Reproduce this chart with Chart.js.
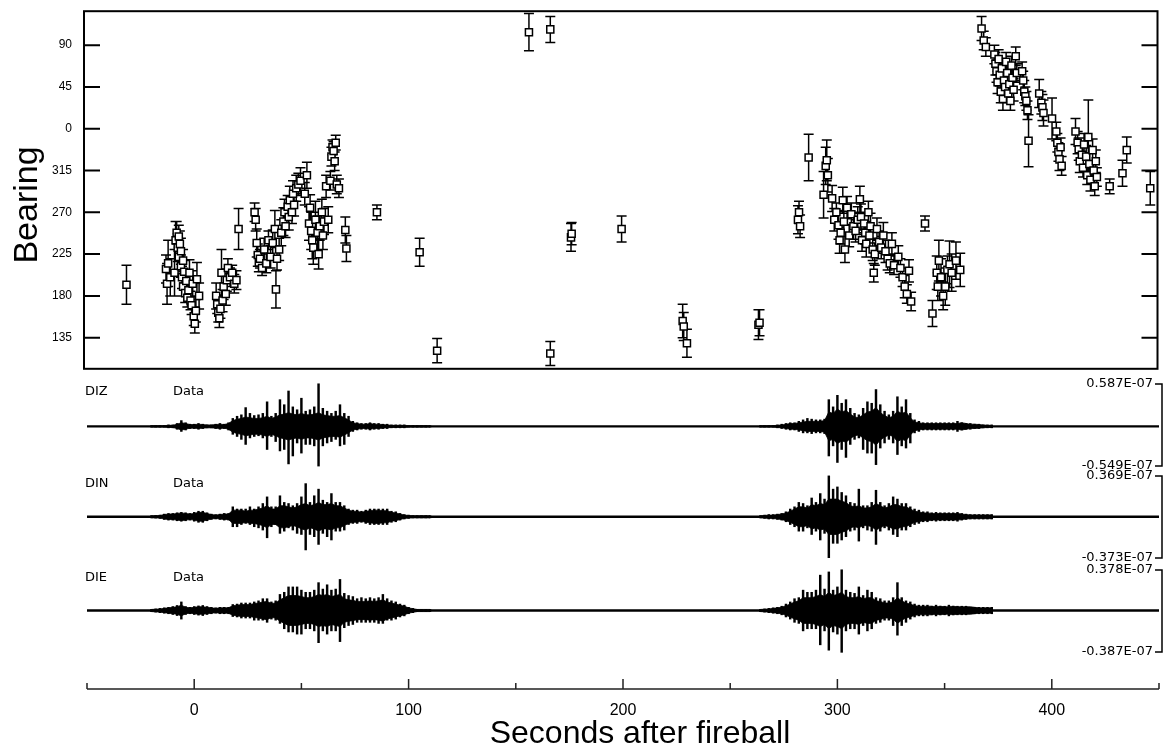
<!DOCTYPE html>
<html>
<head>
<meta charset="utf-8">
<script src="https://cdn.jsdelivr.net/npm/chart.js@4.4.1/dist/chart.umd.min.js"></script>
<style>
  body { margin: 0; background: #fff; }
  #wrap { position: relative; width: 1164px; height: 756px; overflow: hidden; }
  canvas { position: absolute; left: 0; }
</style>
</head>
<body>
<div id="wrap">
  <canvas id="bearing" width="1164" height="380" style="top:0"></canvas>
  <canvas id="diz" width="1164" height="100" style="top:376px"></canvas>
  <canvas id="din" width="1164" height="100" style="top:468px"></canvas>
  <canvas id="die" width="1164" height="100" style="top:562px"></canvas>
  <canvas id="axis" width="1164" height="96" style="top:660px"></canvas>
</div>
<script>
// bearing estimates: seconds after fireball, unwrapped bearing (deg), half error bar (deg)
const bearingTime = [
  -31.5, -13, -12.5, -12, -11, -9, -8.5, -8, -7.5, -7, -7, -6.5, -6, -6, -5.5, -5, -5, -4.5, -4, -3.5, -3, -2.5, -2, -1.5, -1, -0.5, 0, 0.5, 1, 1.5, 2.5,
  10.5, 11, 11.5, 12, 12.5, 13, 13.5, 14, 15, 15.5, 16, 17, 18, 19, 20, 21,
  28.5, 29, 29.5, 30, 30.5, 31, 32, 33, 34, 35, 36, 37, 38, 38.5, 39, 40, 41, 42, 42.5, 43, 44, 44.5, 45, 46, 46.5, 47, 48, 49, 50,
  52, 53, 54, 54.5, 55, 55.5, 56, 57, 58, 58.5, 59, 60, 60.5, 61, 62, 63, 64, 64.5, 65, 65.5, 66, 66.5, 67, 68, 71, 71.5,
  85.8, 105.8, 114, 157, 167, 167, 176.7, 177, 200.4, 229, 229.5, 231, 264.5, 265,
  283, 283.5, 284, 288, 295, 296, 296.5, 297, 299, 300, 301, 302, 302.5, 303, 304, 304.5, 305, 306, 307, 308, 309, 310,
  311, 312, 312.5, 313, 314, 314.5, 315, 316, 316.5, 317, 318, 318.5, 319, 320, 321, 322, 323, 324, 325, 326, 327, 328,
  330, 331, 332, 333, 334, 335, 336, 342.5, 346, 348, 348.5, 349, 350, 351, 352, 353, 354, 355, 357, 359,
  369, 370, 371, 375, 375.5, 376, 376.5, 377, 377.5, 378, 378.5, 379, 379.5, 380, 380.5, 381, 381.5, 382, 382.5, 383, 383.5, 384, 385, 385.5,
  388, 388.5, 389, 389.5, 390, 390.5, 391, 396, 397, 397.5, 398, 402, 404, 404.5, 405, 405.5, 406, 406.5,
  413, 414, 414.5, 415, 416, 416.5, 417, 418, 418.5, 419, 419.5, 420, 421, 421.5, 422, 422.5, 423, 429, 435, 437, 448
];
const bearingValue = [
  192, 209, 193, 215, 200, 205, 240, 248, 232, 244, 222, 236, 212, 228, 200, 218, 190, 206, 183, 196, 178, 186, 205, 175, 170, 193, 158, 150, 164, 198, 180,
  180, 171, 162, 156, 166, 205, 175, 190, 182, 197, 210, 200, 205, 193, 197, 252,
  270, 262, 237, 224, 216, 220, 210, 230, 215, 240, 222, 237, 252, 187, 220, 230, 248, 260, 270, 255, 276, 265, 283, 270, 290, 278, 296, 300, 304,
  290, 310, 258, 275, 250, 240, 232, 262, 248, 225, 255, 270, 245, 260, 298, 262, 304, 330, 340, 336, 325, 345, 300, 296, 251, 231,
  270, 227, 121, 464, 467, 118, 243, 247, 252, 153, 147, 129, 149, 151,
  262, 270, 255, 329, 289, 320, 326, 310, 285, 262, 270, 256, 240, 248, 283, 260, 230, 275, 245, 268, 255, 250,
  262, 284, 265, 240, 258, 248, 236, 270, 245, 255, 230, 205, 225, 252, 238, 232, 245, 228, 220, 215, 236, 213,
  222, 210, 200, 190, 182, 207, 174, 258, 161, 205, 190, 218, 200, 180, 190, 208, 214, 205, 218, 208,
  468, 455, 448, 440, 430, 422, 410, 435, 418, 400, 425, 392, 412, 405, 432, 420, 398, 408, 390, 428, 415, 402, 438, 420,
  422, 412, 400, 395, 390, 380, 347, 398, 388, 383, 377, 371, 357, 345, 335, 327, 340, 320,
  357, 345, 338, 325, 332, 318, 343, 330, 310, 351, 322, 305, 337, 315, 298, 325, 308, 298, 312, 337, 296
];
const bearingError = [
  21, 15, 22, 25, 20, 25, 20, 12, 15, 12, 14, 14, 12, 14, 12, 12, 10, 12, 10, 12, 10, 10, 14, 10, 10, 14, 10, 10, 12, 18, 14,
  14, 10, 10, 10, 10, 25, 12, 14, 12, 12, 10, 10, 8, 10, 10, 22,
  10, 12, 15, 12, 10, 10, 8, 12, 10, 10, 12, 14, 20, 20, 12, 12, 14, 15, 14, 12, 12, 14, 15, 12, 14, 12, 14, 12, 14,
  12, 14, 18, 14, 20, 20, 18, 20, 18, 16, 15, 14, 15, 14, 12, 14, 10, 10, 8, 10, 10, 8, 10, 10, 14, 14,
  8, 15, 13, 20, 14, 13, 15, 12, 14, 18, 15, 15, 16, 14,
  15, 12, 12, 25, 25, 20, 22, 18, 14, 12, 10, 15, 14, 12, 14, 12, 14, 12, 12, 12, 14, 12,
  14, 14, 14, 12, 12, 12, 14, 12, 12, 14, 12, 10, 12, 12, 12, 12, 14, 12, 12, 10, 12, 10,
  12, 10, 10, 12, 10, 12, 10, 8, 14, 18, 15, 22, 20, 15, 20, 15, 25, 20, 20, 18,
  13, 10, 10, 10, 12, 12, 12, 10, 12, 12, 10, 12, 10, 12, 10, 10, 10, 10, 10, 10, 10, 12, 10, 10,
  10, 10, 12, 10, 10, 10, 28, 15, 12, 14, 14, 22, 10, 10, 10, 12, 10, 10,
  14, 12, 12, 12, 10, 10, 12, 12, 10, 40, 12, 12, 12, 10, 10, 12, 10, 8, 14, 14, 18
];
const bearingTicks = [135, 180, 225, 270, 315, 360, 405, 450];
const timeTicks = [0, 100, 200, 300, 400];
const timeMinorTicks = [-50, 50, 150, 250, 350, 450];

// seismograms (units of 1e-9), sampled every 2 s in the two bursts:
// peak up / peak down swings, plus the dense core amplitude under them
const burst1Time = [-20, -18, -16, -14, -12, -10, -8, -6, -4, -2, 0, 2, 4, 6, 8, 10, 12, 14, 16, 18,
  20, 22, 24, 26, 28, 30, 32, 34, 36, 38, 40, 42, 44, 46, 48, 50, 52, 54, 56, 58,
  60, 62, 64, 66, 68, 70, 72, 74, 76, 78, 80, 82, 84, 86, 88, 90, 92, 94, 96, 98,
  100, 102, 104, 106, 108, 110];
const burst2Time = [264, 266, 268, 270, 272, 274, 276, 278, 280, 282, 284, 286, 288, 290, 292, 294, 296, 298, 300, 302,
  304, 306, 308, 310, 312, 314, 316, 318, 320, 322, 324, 326, 328, 330, 332, 334, 336, 338, 340, 342,
  344, 346, 348, 350, 352, 354, 356, 358, 360, 362, 364, 366, 368, 370, 372];

const dizHigh1 = [1, 1, 1, 1, 2, 2, 4, 8, 5, 3, 3, 4, 3, 2, 2, 3, 4, 3, 5, 11,
  14, 16, 26, 18, 15, 16, 18, 34, 14, 18, 37, 30, 49, 27, 23, 39, 21, 23, 27, 59,
  25, 21, 18, 21, 30, 18, 14, 7, 5, 4, 4, 5, 4, 4, 3, 3, 2, 2, 2, 2, 1, 1, 1, 1, 1, 1];
const dizLow1 = [-1, -1, -1, -1, -2, -2, -4, -7, -5, -3, -3, -4, -3, -2, -2, -3, -4, -3, -5, -11,
  -14, -18, -25, -16, -14, -13, -16, -32, -14, -21, -34, -32, -52, -41, -23, -37, -25, -25, -27, -55,
  -27, -23, -21, -18, -27, -25, -14, -7, -5, -4, -4, -5, -4, -4, -3, -3, -2, -2, -2, -2, -1, -1, -1, -1, -1, -1];
const dizCore1 = [1, 1, 1, 1, 1.5, 1.5, 3, 5, 4, 2.5, 2.5, 3, 2.5, 2, 2, 2.5, 3, 2.5, 4, 8,
  10, 11, 13, 12, 11, 11, 12, 14, 11, 13, 16, 17, 19, 17, 16, 18, 16, 16, 17, 19,
  16, 15, 14, 14, 15, 12, 9, 5, 4, 3, 3, 4, 3, 3, 2.5, 2, 1.5, 1.5, 1.5, 1.5, 1, 1, 1, 1, 1, 1];
const dizHigh2 = [1, 1, 1, 1, 2, 3, 4, 5, 5, 7, 9, 11, 10, 9, 9, 10, 37, 27, 43, 32,
  37, 25, 18, 16, 25, 34, 32, 51, 30, 21, 16, 21, 41, 27, 37, 18, 9, 7, 5, 5,
  5, 5, 5, 5, 5, 5, 7, 5, 4, 4, 3, 3, 2, 2, 2];
const dizLow2 = [-1, -1, -1, -1, -2, -3, -4, -5, -5, -7, -9, -9, -10, -9, -9, -10, -41, -27, -50, -32,
  -43, -25, -18, -16, -32, -37, -37, -53, -30, -23, -18, -23, -39, -27, -30, -23, -9, -7, -5, -5,
  -5, -5, -5, -5, -5, -5, -7, -5, -4, -4, -3, -3, -2, -2, -2];
const dizCore2 = [1, 1, 1, 1, 1.5, 2, 3, 4, 4, 5, 6, 7, 7, 7, 7, 8, 20, 18, 24, 20,
  22, 17, 13, 12, 16, 20, 21, 26, 19, 15, 12, 14, 21, 18, 20, 12, 6, 5, 4, 4,
  4, 4, 4, 4, 4, 4, 4, 5, 4, 3, 3, 2.5, 2, 1.5, 1.5];

const dinHigh1 = [1, 1.2, 1.5, 2.4, 3, 3, 3.6, 4, 3.6, 3, 4, 5, 5, 3.6, 2.4, 2, 2.4, 3, 3, 9,
  7, 7, 7, 9, 7, 9, 12, 18, 9, 9, 19, 13, 12, 10, 12, 18, 30, 13, 19, 25,
  15, 13, 21, 13, 13, 10, 7, 6, 6, 5, 6, 7, 7, 7, 7, 7, 5, 4.5, 3, 2, 1.5, 1, 1, 1, 1, 1];
const dinLow1 = [-1, -1.2, -1.5, -2.4, -3, -3, -3.6, -4, -3.6, -3, -4, -5, -5, -3.6, -2.4, -2, -2.4, -3, -3, -9,
  -9, -7, -6, -7, -9, -10, -12, -19, -9, -7, -15, -13, -10, -12, -15, -16, -30, -16, -18, -25,
  -15, -18, -21, -13, -13, -12, -7, -6, -6, -5, -6, -7, -7, -7, -7, -7, -5, -4.5, -3, -2, -1.5, -1, -1, -1, -1, -1];
const dinCore1 = [1, 1, 1.2, 2, 2.5, 2.5, 3, 3.5, 3, 2.5, 3, 4, 4, 3, 2, 1.5, 2, 2.5, 2.5, 6,
  6, 6, 5, 6, 6, 7, 8, 10, 7, 7, 10, 10, 9, 8, 9, 11, 12, 10, 11, 13,
  11, 11, 12, 10, 10, 8, 6, 5, 5, 4, 5, 5.5, 6, 6, 5.5, 5.5, 4, 3.5, 2.5, 1.5, 1.2, 1, 1, 1, 1, 1];
const dinHigh2 = [1, 1.5, 2, 2, 2.4, 3, 4.5, 7, 9, 13, 12, 10, 17, 13, 21, 16, 37, 25, 27, 22,
  19, 13, 12, 25, 10, 10, 13, 24, 13, 10, 12, 18, 16, 12, 12, 9, 7, 6, 4.5, 4.5,
  3.6, 4, 3.6, 3.6, 3.6, 3.6, 4, 3, 2.4, 2, 2, 2, 2, 2, 2];
const dinLow2 = [-1, -1.5, -2, -2, -2.4, -3, -4.5, -7, -9, -13, -13, -10, -16, -13, -21, -15, -37, -24, -24, -21,
  -18, -13, -12, -22, -10, -12, -13, -25, -13, -10, -12, -16, -18, -12, -12, -9, -7, -6, -4.5, -4.5,
  -3.6, -4, -3.6, -3.6, -3.6, -3.6, -4, -3, -2.4, -2, -2, -2, -2, -2, -2];
const dinCore2 = [1, 1.2, 1.5, 1.5, 2, 2.5, 3.5, 5, 7, 9, 9, 8, 11, 10, 12, 11, 16, 16, 16, 14,
  13, 10, 9, 10, 8, 8, 9, 12, 10, 8, 9, 11, 11, 9, 9, 7, 5, 4.5, 3.5, 3.5,
  3, 3, 3, 3, 3, 3, 3, 2.5, 2, 1.7, 1.7, 1.7, 1.7, 1.7, 1.7];

const dieHigh1 = [1, 1.5, 2, 2.5, 3, 3.7, 4.7, 8, 3.7, 3, 3.7, 4.3, 4.7, 3.7, 3, 2.5, 3, 3, 3, 5.6,
  6, 7, 7, 7, 8, 9, 11, 11, 8, 9, 15, 17, 22, 22, 22, 19, 17, 17, 19, 26,
  20, 24, 19, 20, 29, 16, 14, 13, 11, 12, 11, 12, 11, 12, 15, 11, 9, 8, 6, 5, 3, 2, 1, 1, 1, 1];
const dieLow1 = [-1, -1.5, -2, -2.5, -3, -3.7, -4.7, -8, -3.7, -3, -3.7, -4.3, -4.7, -3.7, -3, -2.5, -3, -3, -3, -5.6,
  -6, -7, -7, -7, -9, -9, -9, -11, -8, -9, -12, -17, -20, -20, -22, -22, -17, -17, -19, -30,
  -19, -22, -19, -19, -29, -16, -14, -13, -11, -11, -11, -11, -11, -12, -12, -9, -9, -8, -6, -5, -3, -2, -1, -1, -1, -1];
const dieCore1 = [1, 1.2, 1.5, 2, 2.5, 3, 3.5, 5, 3, 2.5, 3, 3.5, 3.5, 3, 2.5, 2, 2.5, 2.5, 2.5, 4.5,
  5, 5.5, 5.5, 5.5, 6.5, 7, 8, 8.5, 6.5, 7, 10, 12, 14, 14, 14, 13, 12, 12, 13, 15,
  14, 15, 13, 14, 15, 11, 10, 9.5, 8.5, 8.5, 8.5, 9, 8.5, 9, 10, 8, 7, 6, 5, 4, 2.5, 1.7, 1, 1, 1, 1];
const dieHigh2 = [1, 1.5, 2, 2.5, 3, 4, 6, 8, 11, 12, 19, 17, 17, 19, 33, 20, 36, 19, 22, 38,
  19, 17, 16, 22, 14, 19, 17, 12, 11, 9, 9, 12, 26, 12, 9, 8, 6, 5, 5, 5,
  4, 5, 4, 4, 5, 4, 4, 4, 4, 3, 3, 3, 3, 3, 3];
const dieLow2 = [-1, -1.5, -2, -2.5, -3, -4, -6, -8, -11, -12, -19, -17, -17, -17, -32, -19, -37, -20, -22, -39,
  -19, -17, -17, -22, -14, -19, -17, -12, -11, -9, -9, -14, -23, -14, -11, -8, -6, -5, -5, -5,
  -4, -5, -4, -4, -5, -4, -4, -4, -4, -3, -3, -3, -3, -3, -3];
const dieCore2 = [1, 1.2, 1.5, 2, 2.5, 3, 4.5, 6, 8, 9, 12, 12, 12, 13, 15, 13, 17, 14, 15, 17,
  13, 12, 12, 13, 11, 12, 12, 9, 8.5, 7, 7, 8, 12, 9, 7, 6, 4.5, 4, 4, 4,
  4, 3.5, 4, 3.5, 3.5, 4, 3.5, 3.5, 3.5, 3.5, 3, 2.5, 2.5, 2.5, 2.5];

const dizRange = [-54.9, 58.7];
const dinRange = [-37.3, 36.9];
const dieRange = [-38.7, 37.8];

const SANS = '"Liberation Sans", Arial, Helvetica, sans-serif';
const TRACE_FONT = '"DejaVu Sans", sans-serif';

const bearingDecor = {
    id: "bearingDecor",
    beforeDatasetsDraw(chart) {
        const { ctx, chartArea, scales: { x, y } } = chart;
        ctx.save();
        ctx.beginPath();
        ctx.rect(chartArea.left, chartArea.top, chartArea.right - chartArea.left, chartArea.bottom - chartArea.top);
        ctx.clip();
        ctx.strokeStyle = "#000";
        ctx.lineWidth = 1.5;
        ctx.beginPath();
        bearingTime.forEach((t, i) => {
            const px = x.getPixelForValue(t);
            const top = y.getPixelForValue(bearingValue[i] + bearingError[i]);
            const bot = y.getPixelForValue(bearingValue[i] - bearingError[i]);
            ctx.moveTo(px, top); ctx.lineTo(px, bot);
            ctx.moveTo(px - 5, top); ctx.lineTo(px + 5, top);
            ctx.moveTo(px - 5, bot); ctx.lineTo(px + 5, bot);
        });
        ctx.stroke();
        ctx.restore();
    },
    afterDraw(chart) {
        const { ctx, chartArea: a, scales: { y } } = chart;
        ctx.save();
        ctx.strokeStyle = "#000";
        ctx.lineWidth = 2;
        ctx.strokeRect(a.left, a.top, a.right - a.left, a.bottom - a.top);
        ctx.beginPath();
        bearingTicks.forEach((v) => {
            const py = y.getPixelForValue(v);
            ctx.moveTo(a.left, py); ctx.lineTo(a.left + 16, py);
            ctx.moveTo(a.right, py); ctx.lineTo(a.right - 16, py);
        });
        ctx.stroke();
        ctx.fillStyle = "#000";
        ctx.font = `34px ${SANS}`;
        ctx.textAlign = "center";
        ctx.textBaseline = "middle";
        ctx.translate(28, 205);
        ctx.rotate(-Math.PI / 2);
        ctx.fillText("Bearing", 0, 0);
        ctx.restore();
    }
};

new Chart(document.getElementById("bearing"), {
    type: "scatter",
    data: {
        datasets: [{
            data: bearingTime.map((t, i) => ({ x: t, y: bearingValue[i] })),
            pointStyle: "rect",
            pointRadius: 5,
            backgroundColor: "#fff",
            borderColor: "#000",
            borderWidth: 1.5,
            clip: false,
        }]
    },
    options: {
        responsive: false,
        animation: false,
        layout: { padding: { top: 9, bottom: 9, right: 2, left: 0 } },
        plugins: { legend: { display: false }, tooltip: { enabled: false } },
        scales: {
            x: { type: "linear", min: -51.4, max: 451.4, display: false },
            y: {
                min: 101.5,
                max: 486.6,
                afterBuildTicks: (s) => { s.ticks = bearingTicks.map((v) => ({ value: v })); },
                afterFit: (s) => { s.width = 84; },
                grid: { display: false },
                border: { display: false },
                ticks: {
                    color: "#000",
                    padding: 4,
                    font: { family: SANS, size: 12 },
                    callback: (v) => String(v % 360),
                },
            },
        },
    },
    plugins: [bearingDecor],
});

function traceDecor(name, range) {
    return {
        id: "traceDecor",
        afterDraw(chart) {
            const { ctx, chartArea: a, scales: { y } } = chart;
            ctx.save();
            ctx.fillStyle = "#000";
            ctx.strokeStyle = "#000";
            ctx.font = `13px ${TRACE_FONT}`;
            ctx.textBaseline = "middle";
            ctx.textAlign = "left";
            ctx.fillText(name, 85, a.top + 8);
            ctx.fillText("Data", 173, a.top + 8);
            const yTop = y.getPixelForValue(range[1]);
            const yBot = y.getPixelForValue(range[0]);
            ctx.lineWidth = 1.5;
            ctx.beginPath();
            ctx.moveTo(1155, yTop); ctx.lineTo(1162, yTop); ctx.lineTo(1162, yBot); ctx.lineTo(1155, yBot);
            ctx.stroke();
            ctx.textAlign = "right";
            const fmt = (v) => (v < 0 ? "-" : "") + (Math.abs(v) / 100).toFixed(3) + "E-07";
            ctx.fillText(fmt(range[1]), 1153, yTop);
            ctx.fillText(fmt(range[0]), 1153, yBot);
            ctx.restore();
        }
    };
}

function traceChart(id, name, tr, range) {
    const swings = [];
    burst1Time.forEach((t, i) => swings.push({ x: t, y: [tr.low1[i], tr.high1[i]] }));
    burst2Time.forEach((t, i) => swings.push({ x: t, y: [tr.low2[i], tr.high2[i]] }));
    const fillLine = { type: "line", borderWidth: 0.8, borderColor: "#000", backgroundColor: "#000", pointRadius: 0, clip: false };
    new Chart(document.getElementById(id), {
        type: "bar",
        data: {
            datasets: [
                { ...fillLine, data: [{ x: -50, y: 0 }, { x: 450, y: 0 }], borderWidth: 2.4 },
                { ...fillLine, data: burst1Time.map((t, i) => ({ x: t, y: tr.core1[i] })) },
                { ...fillLine, data: burst1Time.map((t, i) => ({ x: t, y: -tr.core1[i] })), fill: "-1" },
                { ...fillLine, data: burst2Time.map((t, i) => ({ x: t, y: tr.core2[i] })) },
                { ...fillLine, data: burst2Time.map((t, i) => ({ x: t, y: -tr.core2[i] })), fill: "-1" },
                { data: swings, backgroundColor: "#000", barThickness: 1.8, clip: false },
            ]
        },
        options: {
            responsive: false,
            animation: false,
            layout: { padding: { left: 87, right: 5, top: 8, bottom: 10 } },
            plugins: { legend: { display: false }, tooltip: { enabled: false } },
            scales: {
                x: { type: "linear", min: -50, max: 450, offset: false, display: false },
                y: { min: range[0], max: range[1], display: false },
            },
        },
        plugins: [traceDecor(name, range)],
    });
}

traceChart("diz", "DIZ", { high1: dizHigh1, low1: dizLow1, core1: dizCore1, high2: dizHigh2, low2: dizLow2, core2: dizCore2 }, dizRange);
traceChart("din", "DIN", { high1: dinHigh1, low1: dinLow1, core1: dinCore1, high2: dinHigh2, low2: dinLow2, core2: dinCore2 }, dinRange);
traceChart("die", "DIE", { high1: dieHigh1, low1: dieLow1, core1: dieCore1, high2: dieHigh2, low2: dieLow2, core2: dieCore2 }, dieRange);

const axisDecor = {
    id: "axisDecor",
    afterDraw(chart) {
        const { ctx, chartArea: a, scales: { x } } = chart;
        ctx.save();
        ctx.strokeStyle = "#222";
        ctx.lineWidth = 1.5;
        ctx.beginPath();
        ctx.moveTo(x.getPixelForValue(-50), a.bottom);
        ctx.lineTo(x.getPixelForValue(450), a.bottom);
        timeTicks.forEach((v) => {
            const px = x.getPixelForValue(v);
            ctx.moveTo(px, a.bottom); ctx.lineTo(px, a.bottom - 10);
        });
        timeMinorTicks.forEach((v) => {
            const px = x.getPixelForValue(v);
            ctx.moveTo(px, a.bottom); ctx.lineTo(px, a.bottom - 6);
        });
        ctx.stroke();
        ctx.fillStyle = "#000";
        ctx.font = `32px ${SANS}`;
        ctx.textAlign = "center";
        ctx.textBaseline = "middle";
        ctx.fillText("Seconds after fireball", 640, 74);
        ctx.restore();
    }
};

new Chart(document.getElementById("axis"), {
    type: "scatter",
    data: { datasets: [] },
    options: {
        responsive: false,
        animation: false,
        layout: { padding: { left: 87, right: 5 } },
        plugins: { legend: { display: false }, tooltip: { enabled: false } },
        scales: {
            x: {
                type: "linear",
                min: -50,
                max: 450,
                position: "bottom",
                afterBuildTicks: (s) => { s.ticks = timeTicks.map((v) => ({ value: v })); },
                afterFit: (s) => { s.height = 67; },
                grid: { display: false },
                border: { display: false },
                ticks: { color: "#000", padding: 4, maxRotation: 0, font: { family: SANS, size: 16 } },
            },
            y: { display: false },
        },
    },
    plugins: [axisDecor],
});
</script>
</body>
</html>
